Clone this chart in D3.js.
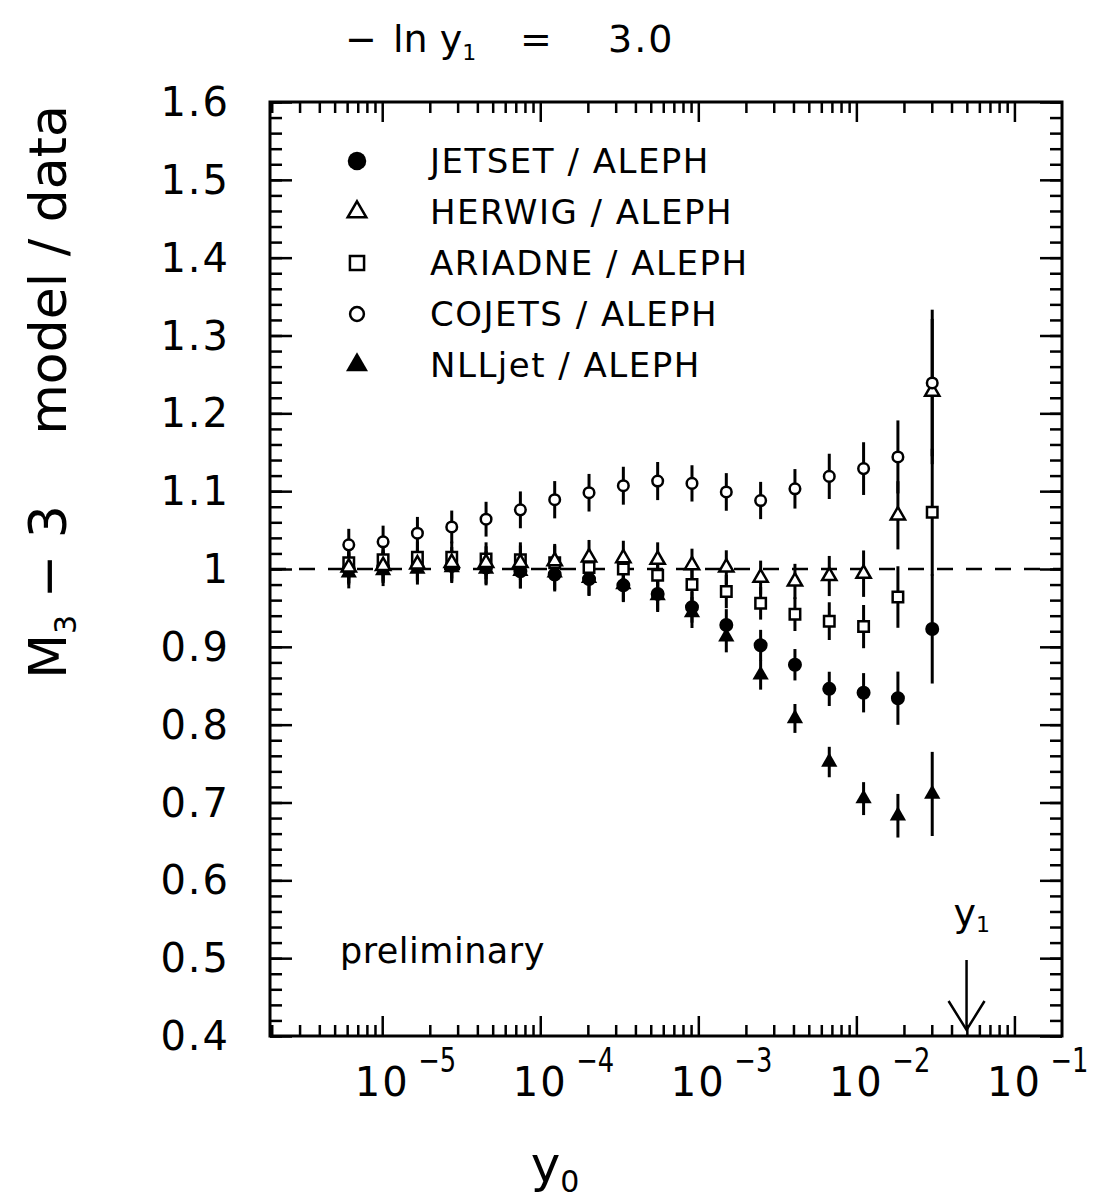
<!DOCTYPE html>
<html>
<head>
<meta charset="utf-8">
<script src="https://cdn.jsdelivr.net/npm/d3@7"></script>
<style>
  body { margin: 0; background: #fff; }
  svg text { font-family: "DejaVu Sans", sans-serif; fill: #000; }
</style>
</head>
<body>
<svg id="chart" width="1101" height="1203"></svg>
<script>
// -ln y0 of each measured point
const negLnY0 = [12.0, 11.5, 11.0, 10.5, 10.0, 9.5, 9.0, 8.5, 8.0, 7.5, 7.0, 6.5, 6.0, 5.5, 5.0, 4.5, 4.0, 3.5];

const jetset  = [1.000, 1.002, 1.004, 1.004, 1.002, 0.997, 0.993, 0.987, 0.979, 0.968, 0.951, 0.928, 0.902, 0.877, 0.846, 0.841, 0.834, 0.923];
const herwig  = [1.002, 1.004, 1.006, 1.008, 1.008, 1.008, 1.010, 1.015, 1.014, 1.012, 1.005, 1.002, 0.989, 0.984, 0.991, 0.994, 1.069, 1.228];
const ariadne = [1.008, 1.012, 1.015, 1.015, 1.013, 1.012, 1.008, 1.002, 1.000, 0.992, 0.980, 0.971, 0.956, 0.942, 0.933, 0.926, 0.964, 1.073];
const cojets  = [1.031, 1.035, 1.046, 1.054, 1.064, 1.076, 1.089, 1.098, 1.107, 1.113, 1.110, 1.099, 1.088, 1.103, 1.119, 1.129, 1.144, 1.239];
const nlljet  = [0.995, 0.998, 1.000, 1.002, 1.000, 0.997, 0.995, 0.988, 0.980, 0.966, 0.944, 0.913, 0.864, 0.808, 0.752, 0.705, 0.683, 0.711];

// relative error of the data at each point
const relErr = [0.020, 0.020, 0.020, 0.020, 0.021, 0.022, 0.022, 0.022, 0.022, 0.022, 0.021, 0.022, 0.022, 0.023, 0.026, 0.030, 0.041, 0.076];

const legendNames = ["JETSET / ALEPH", "HERWIG / ALEPH", "ARIADNE / ALEPH", "COJETS / ALEPH", "NLLjet / ALEPH"];
const yTicks = [0.4, 0.5, 0.6, 0.7, 0.8, 0.9, 1.0, 1.1, 1.2, 1.3, 1.4, 1.5, 1.6];
const yTickLabels = ["0.4", "0.5", "0.6", "0.7", "0.8", "0.9", "1", "1.1", "1.2", "1.3", "1.4", "1.5", "1.6"];
const xDecades = [-5, -4, -3, -2, -1];
const negLnY1 = 3.0;

const plotLeft = 270, plotRight = 1062, plotTop = 102, plotBottom = 1036;
const svg = d3.select("#chart");

const x = d3.scaleLog().domain([1.95e-6, 0.2]).range([plotLeft, plotRight]);
const y = d3.scaleLinear().domain([0.4, 1.6]).range([plotBottom, plotTop]);

// tick positions
const yMinor = d3.range(0, 61).map(i => 0.4 + i * 0.02);
const xMajor = xDecades.map(d => Math.pow(10, d));
const xMinor = [];
for (let e = -6; e <= -1; e++) {
    for (let k = 2; k <= 9; k++) {
        const v = k * Math.pow(10, e);
        if (v > 1.95e-6 && v < 0.2) xMinor.push(v);
    }
}

function tickAxis(axis, values, size, transform) {
    svg.append("g").attr("transform", transform)
        .call(axis.tickValues(values).tickSize(size).tickFormat(""))
        .call(g => g.select(".domain").remove())
        .call(g => g.selectAll("line").attr("stroke", "#000").attr("stroke-width", 2.5));
}

tickAxis(d3.axisBottom(x), xMajor, -20, `translate(0,${plotBottom})`);
tickAxis(d3.axisBottom(x), xMinor, -11, `translate(0,${plotBottom})`);
tickAxis(d3.axisTop(x), xMajor, -20, `translate(0,${plotTop})`);
tickAxis(d3.axisTop(x), xMinor, -11, `translate(0,${plotTop})`);
tickAxis(d3.axisLeft(y), yTicks, -22, `translate(${plotLeft},0)`);
tickAxis(d3.axisLeft(y), yMinor, -12, `translate(${plotLeft},0)`);
tickAxis(d3.axisRight(y), yTicks, -22, `translate(${plotRight},0)`);
tickAxis(d3.axisRight(y), yMinor, -12, `translate(${plotRight},0)`);

svg.append("rect").attr("x", plotLeft).attr("y", plotTop)
    .attr("width", plotRight - plotLeft).attr("height", plotBottom - plotTop)
    .attr("fill", "none").attr("stroke", "#000").attr("stroke-width", 3);

// y tick labels
svg.append("g").selectAll("text").data(yTicks).enter().append("text")
    .attr("x", 230).attr("y", d => y(d) + 14)
    .attr("text-anchor", "end").attr("font-size", 40).attr("letter-spacing", 2)
    .text((d, i) => yTickLabels[i]);

// x tick labels 10^n
const xl = svg.append("g");
xl.selectAll("text.base").data(xDecades).enter().append("text")
    .attr("x", d => x(Math.pow(10, d))).attr("y", 1096)
    .attr("text-anchor", "middle").attr("font-size", 40).attr("letter-spacing", 2).text("10");
xl.selectAll("text.exp").data(xDecades).enter().append("text")
    .attr("x", d => x(Math.pow(10, d)) + 36).attr("y", 1072)
    .attr("text-anchor", "start").attr("font-size", 34)
    .attr("textLength", 38).attr("lengthAdjust", "spacingAndGlyphs")
    .text(d => "\u2212" + Math.abs(d));

// titles
const title = svg.append("text").attr("y", 52).attr("font-size", 38);
title.append("tspan").attr("x", 345).text("\u2212");
title.append("tspan").attr("x", 393).text("ln y");
title.append("tspan").attr("font-size", 22).attr("dy", 8).text("1");
title.append("tspan").attr("x", 520).attr("dy", -8).text("=");
title.append("tspan").attr("x", 608).attr("letter-spacing", 2).text("3.0");

const xt = svg.append("text").attr("x", 555).attr("y", 1182).attr("text-anchor", "middle").attr("font-size", 50);
xt.append("tspan").text("y");
xt.append("tspan").attr("font-size", 30).attr("dy", 10).text("0");

svg.append("text").attr("transform", "translate(66,270) rotate(-90)")
    .attr("text-anchor", "middle").attr("font-size", 52).text("model / data");
const yt2 = svg.append("text").attr("transform", "translate(66,592) rotate(-90)")
    .attr("text-anchor", "middle").attr("font-size", 52).attr("xml:space", "preserve");
yt2.append("tspan").text("M");
yt2.append("tspan").attr("font-size", 30).attr("dy", 10).text("3");
yt2.append("tspan").attr("dy", -10).text(" \u2212 3");

svg.append("text").attr("x", 340).attr("y", 963).attr("font-size", 35).attr("letter-spacing", 0.5).text("preliminary");

// reference line at 1
svg.append("line").attr("x1", plotLeft).attr("x2", plotRight).attr("y1", y(1)).attr("y2", y(1))
    .attr("stroke", "#000").attr("stroke-width", 2.5).attr("stroke-dasharray", "16,13");

// series
const series = [
    {name: legendNames[0], values: jetset, shape: d3.symbolCircle, size: 154, filled: true, lsize: 270},
    {name: legendNames[1], values: herwig, shape: d3.symbolTriangle, size: 88, filled: false, lsize: 150},
    {name: legendNames[2], values: ariadne, shape: d3.symbolSquare, size: 110, filled: false, lsize: 200},
    {name: legendNames[3], values: cojets, shape: d3.symbolCircle, size: 88, filled: false, lsize: 150},
    {name: legendNames[4], values: nlljet, shape: d3.symbolTriangle, size: 115, filled: true, lsize: 210}
];

const xs = i => x(Math.exp(-negLnY0[i]));

const bars = svg.append("g");
series.forEach(s => {
    bars.selectAll(null).data(s.values).enter().append("line")
        .attr("x1", (d, i) => xs(i)).attr("x2", (d, i) => xs(i))
        .attr("y1", (d, i) => y(d * (1 + relErr[i])))
        .attr("y2", (d, i) => y(d * (1 - relErr[i])))
        .attr("stroke", "#000").attr("stroke-width", 3);
});

const marks = svg.append("g");
[0, 4, 2, 1, 3].forEach(k => {
    const s = series[k];
    const sym = d3.symbol().type(s.shape).size(s.size);
    marks.selectAll(null).data(s.values).enter().append("path")
        .attr("d", sym)
        .attr("transform", (d, i) => `translate(${xs(i)},${y(d)})`)
        .attr("fill", s.filled ? "#000" : "#fff")
        .attr("stroke", "#000").attr("stroke-width", s.filled ? 0 : 2.5);
});

// legend
const lg = svg.append("g");
series.forEach((s, i) => {
    const cy = 161 + i * 51;
    lg.append("path").attr("d", d3.symbol().type(s.shape).size(s.lsize))
        .attr("transform", `translate(357,${cy})`)
        .attr("fill", s.filled ? "#000" : "#fff")
        .attr("stroke", "#000").attr("stroke-width", s.filled ? 0 : 2.5);
    lg.append("text").attr("x", 430).attr("y", cy + 12).attr("font-size", 34)
        .attr("letter-spacing", 1.5).text(s.name);
});

// y1 marker arrow
const ax = x(Math.exp(-negLnY1));
svg.append("line").attr("x1", ax).attr("x2", ax).attr("y1", 960).attr("y2", 1030)
    .attr("stroke", "#000").attr("stroke-width", 2.5);
svg.append("path").attr("d", `M${ax - 18},${1001} L${ax},${1030} L${ax + 18},${1001}`)
    .attr("fill", "none").attr("stroke", "#000").attr("stroke-width", 2.5);
const yl = svg.append("text").attr("x", ax - 13).attr("y", 926).attr("font-size", 38);
yl.append("tspan").text("y");
yl.append("tspan").attr("font-size", 22).attr("dy", 6).text("1");
</script>
</body>
</html>
